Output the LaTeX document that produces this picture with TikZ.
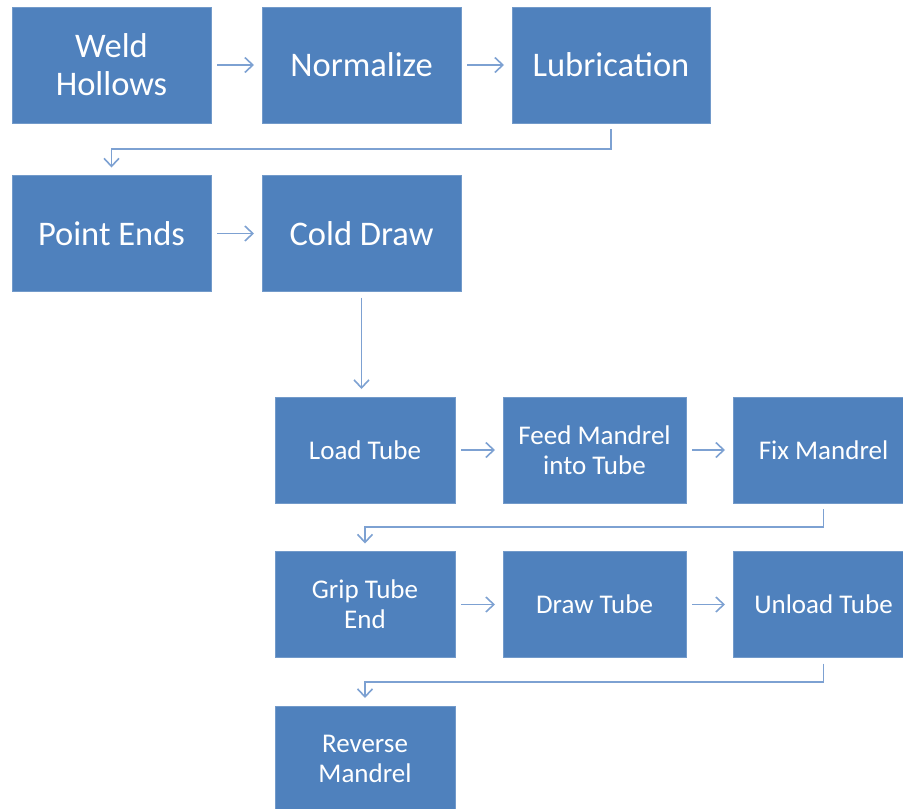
\documentclass[tikz,border=0pt]{standalone}
\usepackage{fontspec}
\setmainfont{Carlito}
\usepackage{tikz}
\usetikzlibrary{calc}
\usetikzlibrary{arrows.meta}

\definecolor{boxblue}{HTML}{4F81BD}
\definecolor{arrowblue}{HTML}{7DA1D2}

\tikzset{
  bigbox/.style={fill=boxblue, draw=boxblue!80!white, inner sep=0pt, outer sep=0pt,
    minimum width=199pt, minimum height=116pt, align=center, text=white,
    font=\fontsize{34.5}{38}\selectfont},
  smallbox/.style={fill=boxblue, draw=boxblue!80!white, inner sep=0pt, outer sep=0pt,
    minimum width=181pt, minimum height=106pt, align=center, text=white,
    font=\fontsize{27}{30}\selectfont},
  flow/.style={draw=arrowblue, line width=1.6pt, -{Straight Barb[length=8pt,width=15pt]},
    shorten <=6pt, shorten >=8pt}
}

\begin{document}
\begin{tikzpicture}[x=1pt,y=-1pt]
\useasboundingbox (0,0) rectangle (903,809);
% first stage
\node (weld) at (111.5,65) [bigbox] {Weld\\Hollows};
\node (normalize) at (361.5,65) [bigbox] {Normalize};
\node (lubric) at (611,65) [bigbox, minimum width=198pt] {Lubrication};
\node (point) at (111.5,233.5) [bigbox] {Point Ends};
\node (colddraw) at (361.5,233.5) [bigbox] {Cold Draw};
\draw [flow] (weld) -- (normalize);
\draw [flow] (normalize) -- (lubric);
\draw [flow] (lubric.south) |- ($(lubric.south)!.5!(point.north)$) -| (point.north);
\draw [flow] (point) -- (colddraw);
% cold draw steps
\node (load) at (365,450) [smallbox, minimum width=180pt] {Load Tube};
\node (feed) at (594.5,450) [smallbox, minimum width=183pt] {Feed Mandrel\\into Tube};
\node (fix) at (823.5,450) [smallbox] {Fix Mandrel};
\node (grip) at (365,604.5) [smallbox, minimum width=180pt] {Grip Tube\\End};
\node (drawtube) at (594.5,604.5) [smallbox, minimum width=183pt] {Draw Tube};
\node (unload) at (823.5,604.5) [smallbox] {Unload Tube};
\node (reverse) at (365,759) [smallbox, minimum width=180pt] {Reverse\\Mandrel};
\draw [flow] (colddraw.south) -- (colddraw.south |- load.north);
\draw [flow] (load) -- (feed);
\draw [flow] (feed) -- (fix);
\draw [flow] (fix.south) |- ($(fix.south)!.5!(grip.north)$) -| (grip.north);
\draw [flow] (grip) -- (drawtube);
\draw [flow] (drawtube) -- (unload);
\draw [flow] (unload.south) |- ($(unload.south)!.5!(reverse.north)$) -| (reverse.north);
\end{tikzpicture}
\end{document}
